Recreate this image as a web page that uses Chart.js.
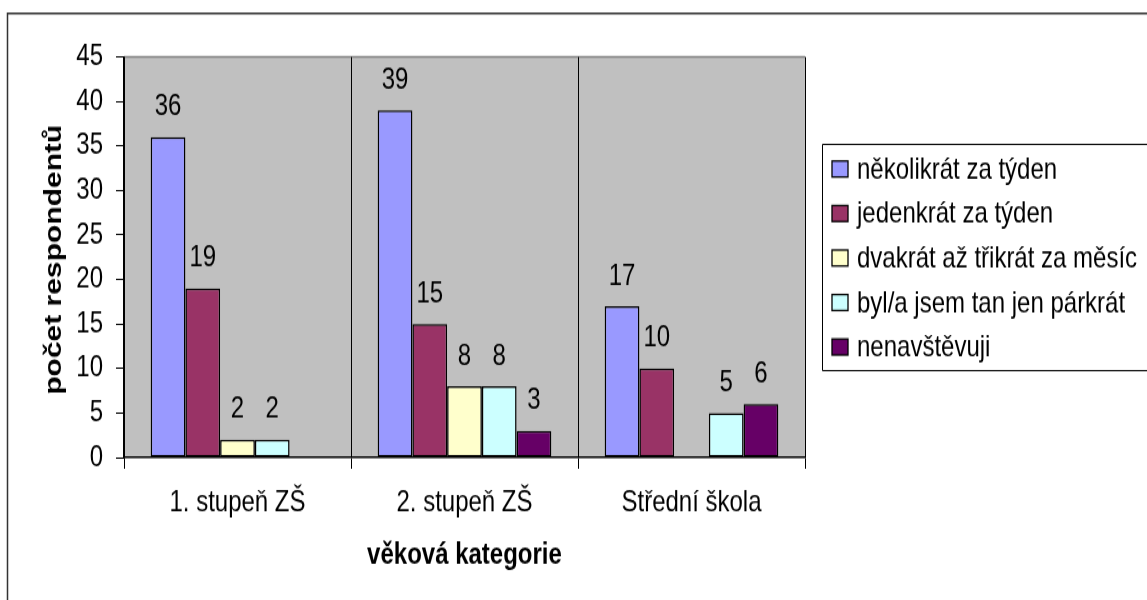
<!DOCTYPE html>
<html>
<head>
<meta charset="utf-8">
<script src="https://cdn.jsdelivr.net/npm/chart.js@4.4.1/dist/chart.umd.min.js"></script>
<style>
  body { margin: 0; background: #fff; overflow: hidden; }
  canvas { display: block; }
</style>
</head>
<body>
<!-- the original picture is stretched vertically, so draw at 480px tall and show at 600px -->
<canvas id="visitChart" width="1147" height="480" style="width:1147px;height:600px"></canvas>
<script>
const categories = ["1. stupeň ZŠ", "2. stupeň ZŠ", "Střední škola"];
const seriesNames = [
    "několikrát za týden", "jedenkrát za týden", "dvakrát až třikrát za měsíc",
    "byl/a jsem tan jen párkrát", "nenavštěvuji"
];
const nekolikrat = [36, 39, 17];
const jedenkrat = [19, 15, 10];
const dvakrat = [2, 8, 0];
const parkrat = [2, 8, 5];
const nenavstevuji = [0, 3, 6];
const yTickMin = 0, yTickMax = 45, yTickStep = 5;

const seriesColors = ["#9999ff", "#993366", "#ffffcc", "#ccffff", "#660066"];
const FONT = "'Liberation Sans', Arial, sans-serif";

function makeDataset(i, values) {
    return {
        label: seriesNames[i],
        data: values,
        backgroundColor: seriesColors[i],
        borderColor: "#000",
        borderWidth: 1.5,
        borderSkipped: false
    };
}

// grey plot area + outer frame
const plotBackground = {
    id: "plotBackground",
    beforeDraw(chart) {
        const { ctx, chartArea: a } = chart;
        ctx.save();
        ctx.fillStyle = "#c0c0c0";
        ctx.fillRect(a.left, a.top, a.right - a.left, a.bottom - a.top);
        ctx.strokeStyle = "#808080";
        ctx.lineWidth = 1.5;
        ctx.beginPath();
        ctx.moveTo(a.left, a.top);
        ctx.lineTo(a.right, a.top);
        ctx.stroke();
        // frame of the whole chart object
        ctx.strokeStyle = "#333";
        ctx.lineWidth = 1.5;
        ctx.beginPath();
        ctx.moveTo(1147, 10.8);
        ctx.lineTo(7.5, 10.8);
        ctx.lineTo(7.5, 480);
        ctx.stroke();
        ctx.restore();
    }
};

// value labels above bars
const valueLabels = {
    id: "valueLabels",
    afterDatasetsDraw(chart) {
        const ctx = chart.ctx;
        ctx.save();
        ctx.font = "24px " + FONT;
        ctx.fillStyle = "#000";
        ctx.textAlign = "center";
        ctx.textBaseline = "middle";
        chart.data.datasets.forEach((ds, i) => {
            chart.getDatasetMeta(i).data.forEach((bar, j) => {
                if (!ds.data[j]) return;
                ctx.fillText(String(ds.data[j]), bar.x, bar.y - 24);
            });
        });
        ctx.restore();
    }
};

// boxed legend on the right and the y title
const sideTexts = {
    id: "sideTexts",
    afterDraw(chart) {
        const ctx = chart.ctx;
        ctx.save();
        const top = 115.5, left = 822.5, bottom = 296.5, rowH = 35.6;
        ctx.strokeStyle = "#000";
        ctx.lineWidth = 1;
        ctx.beginPath();
        ctx.moveTo(1147, top);
        ctx.lineTo(left, top);
        ctx.lineTo(left, bottom);
        ctx.lineTo(1147, bottom);
        ctx.stroke();
        ctx.font = "24px " + FONT;
        ctx.textBaseline = "middle";
        ctx.textAlign = "left";
        chart.data.datasets.forEach((ds, i) => {
            const cy = 135.2 + i * rowH;
            ctx.fillStyle = ds.backgroundColor;
            ctx.fillRect(832, cy - 6.4, 16, 12.8);
            ctx.strokeStyle = "#000";
            ctx.lineWidth = 1.3;
            ctx.strokeRect(832, cy - 6.4, 16, 12.8);
            ctx.fillStyle = "#000";
            ctx.fillText(ds.label, 857, cy + 1);
        });

        const a = chart.chartArea;
        ctx.translate(54, (a.top + a.bottom) / 2 + 2);
        ctx.rotate(-Math.PI / 2);
        ctx.font = "bold 24px " + FONT;
        ctx.textAlign = "center";
        ctx.fillText("počet respondentů", 0, 0);
        ctx.restore();
    }
};

const chartConfig = {
    type: "bar",
    data: {
        labels: categories,
        datasets: [
            makeDataset(0, nekolikrat),
            makeDataset(1, jedenkrat),
            makeDataset(2, dvakrat),
            makeDataset(3, parkrat),
            makeDataset(4, nenavstevuji)
        ]
    },
    options: {
        responsive: false,
        animation: false,
        layout: { padding: { top: 45.6, right: 342, bottom: 0, left: 0 } },
        datasets: {
            bar: { categoryPercentage: 0.765, barPercentage: 1 }
        },
        plugins: {
            legend: { display: false },
            tooltip: { enabled: false }
        },
        scales: {
            x: {
                afterFit(scale) { scale.height = 114; },
                grid: {
                    offset: true,
                    color: (c) => c.index === 3 ? "#808080" : "#000",
                    lineWidth: 1,
                    tickLength: 9,
                    drawOnChartArea: true
                },
                border: { display: true, color: "#000", width: 1.5 },
                ticks: {
                    color: "#000",
                    font: { family: FONT, size: 24 },
                    padding: 13,
                    maxRotation: 0
                },
                title: {
                    display: true,
                    text: "věková kategorie",
                    color: "#000",
                    font: { family: FONT, size: 24, weight: "bold" },
                    padding: { top: 0, bottom: 21 }
                }
            },
            y: {
                min: yTickMin,
                max: yTickMax,
                afterFit(scale) { scale.width = 124; },
                grid: {
                    drawOnChartArea: false,
                    drawTicks: true,
                    tickLength: 8,
                    color: "#000"
                },
                border: { display: true, color: "#000", width: 1.5 },
                ticks: {
                    stepSize: yTickStep,
                    color: "#000",
                    font: { family: FONT, size: 24 },
                    padding: 13
                }
            }
        }
    },
    plugins: [plotBackground, valueLabels, sideTexts]
};

new Chart(document.getElementById("visitChart"), chartConfig);
</script>
</body>
</html>
